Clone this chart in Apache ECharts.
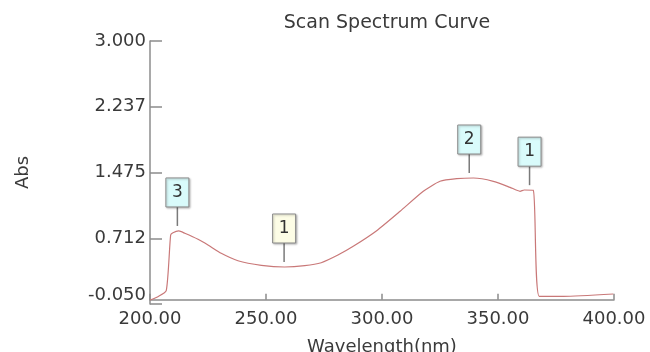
<!DOCTYPE html>
<html>
<head>
<meta charset="utf-8">
<script src="https://cdn.jsdelivr.net/npm/echarts@6/dist/echarts.min.js"></script>
<style>
html,body{margin:0;padding:0;background:#fff;}
#chart{width:650px;height:352px;}
</style>
</head>
<body>
<div id="chart"></div>
<script>
// ---- data ----
const wavelength = [200, 203.4, 207, 208.9, 209.9, 212.4, 215, 220.7, 225, 230.7, 237.9, 248, 258, 266.7, 273.8, 281, 287.6, 297.7, 307.8, 317.8, 325, 332.2, 339.4, 348, 355.2, 359.5, 361.3, 365.2, 367.8, 378.2, 399.7];
const absorbance = [-0.004, 0.035, 0.104, 0.750, 0.777, 0.797, 0.770, 0.700, 0.634, 0.538, 0.452, 0.399, 0.379, 0.394, 0.429, 0.518, 0.619, 0.800, 1.025, 1.257, 1.373, 1.403, 1.411, 1.373, 1.303, 1.257, 1.272, 1.269, 0.039, 0.039, 0.066];

const markerWl = [211.8, 257.8, 337.6, 363.6];
const markerAbs = [0.797, 0.379, 1.411, 1.27];
const markerText = ['3', '1', '2', '1'];
const markerKind = ['peak', 'valley', 'peak', 'peak'];

const yTickValues = [-0.05, 0.7125, 1.475, 2.2375, 3.0];
const yTickLabels = ['-0.050', '0.712', '1.475', '2.237', '3.000'];
const xTickLabels = ['200.00', '250.00', '300.00', '350.00', '400.00'];

const titleText = 'Scan Spectrum Curve';
const xName = 'Wavelength(nm)';
const yName = 'Abs';

// ---- chart ----
const FONT = 'DejaVu Sans';
const chart = echarts.init(document.getElementById('chart'), null, {renderer: 'canvas'});

const curve = wavelength.map((w, i) => [w, absorbance[i]]);
const markers = markerWl.map((w, i) => [w, markerAbs[i], i]);

function yLabel(v) {
  let best = 0;
  yTickValues.forEach((t, i) => { if (Math.abs(t - v) < Math.abs(yTickValues[best] - v)) best = i; });
  return yTickLabels[best];
}

const option = {
  backgroundColor: '#ffffff',
  animation: false,
  title: {
    text: titleText,
    left: 382,
    textAlign: 'center',
    top: 9,
    textStyle: {fontFamily: FONT, fontSize: 19, fontWeight: 'normal', color: '#3a3a3a'}
  },
  grid: {left: 150, right: 36, top: 41, bottom: 48, outerBoundsMode: 'none', containLabel: false},
  xAxis: {
    type: 'value',
    min: 200, max: 400, interval: 50,
    name: xName,
    nameLocation: 'middle',
    nameGap: 34,
    nameTextStyle: {fontFamily: FONT, fontSize: 18, color: '#3a3a3a'},
    axisLine: {show: true, lineStyle: {color: '#8c8c8c', width: 1.5}},
    axisTick: {show: true, inside: true, length: 6, lineStyle: {color: '#8c8c8c', width: 1.5}},
    axisLabel: {
      fontFamily: FONT, fontSize: 18, color: '#3a3a3a', margin: 6,
      formatter: v => xTickLabels[Math.round((v - 200) / 50)] || v.toFixed(2)
    },
    splitLine: {show: false}
  },
  yAxis: {
    type: 'value',
    min: -0.05, max: 3.0,
    name: yName,
    nameLocation: 'middle',
    nameGap: 118,
    nameRotate: 90,
    nameTextStyle: {fontFamily: FONT, fontSize: 18, color: '#3a3a3a'},
    axisLine: {show: true, lineStyle: {color: '#8c8c8c', width: 1.5}},
    axisTick: {show: true, inside: true, length: 12, customValues: yTickValues, lineStyle: {color: '#8c8c8c', width: 1.5}},
    axisLabel: {
      fontFamily: FONT, fontSize: 18, color: '#3a3a3a', margin: 4,
      customValues: yTickValues,
      verticalAlignMinLabel: 'bottom',
      formatter: v => yLabel(v)
    },
    splitLine: {show: false}
  },
  series: [
    {
      type: 'line',
      data: curve,
      showSymbol: false,
      smooth: 0.2,
      lineStyle: {color: '#c97878', width: 1.2},
      z: 2
    },
    {
      type: 'custom',
      data: markers,
      z: 5,
      renderItem: function (params, api) {
        const p = api.coord([api.value(0), api.value(1)]);
        const idx = api.value(2);
        const fill = markerKind[idx] === 'valley' ? '#fdfde6' : '#d9fbfb';
        return {
          type: 'group',
          children: [
            {type: 'line', shape: {x1: p[0], y1: p[1] - 5, x2: p[0], y2: p[1] - 24},
             style: {stroke: '#7a7a7a', lineWidth: 1.5}},
            {type: 'rect', shape: {x: p[0] - 11.5, y: p[1] - 53, width: 23, height: 29},
             style: {fill: fill, stroke: '#8a8a8a', lineWidth: 1,
                     shadowBlur: 2, shadowColor: 'rgba(0,0,0,0.25)', shadowOffsetX: 1, shadowOffsetY: 1}},
            {type: 'text', style: {text: markerText[idx], x: p[0], y: p[1] - 38.5,
             align: 'center', verticalAlign: 'middle', font: '17px "DejaVu Sans"', fill: '#333'}}
          ]
        };
      }
    }
  ]
};
chart.setOption(option);
</script>
</body>
</html>
